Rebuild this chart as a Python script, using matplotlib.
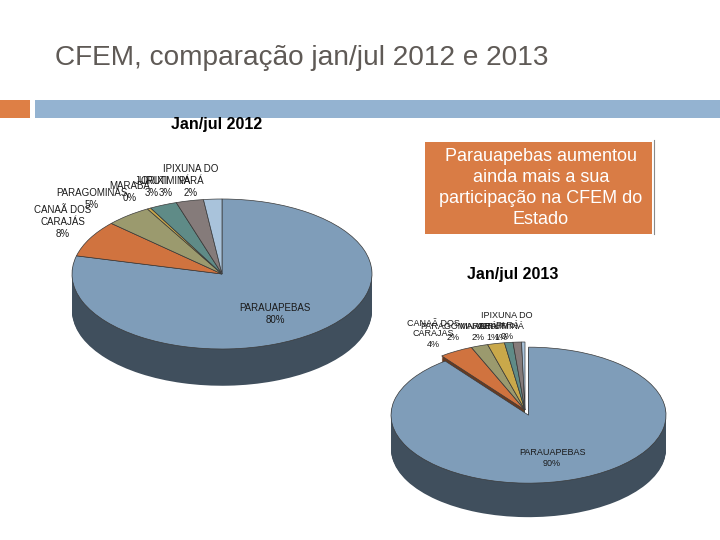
import matplotlib
matplotlib.use("Agg")
import matplotlib.pyplot as plt
import matplotlib.colors as mcolors
from matplotlib.patches import Rectangle
from matplotlib.lines import Line2D
import numpy as np

W, H = 720, 540

municipios = ["PARAUAPEBAS", "CANAÃ DOS\nCARAJÁS", "PARAGOMINAS", "MARABÁ",
              "JURUTI", "ORIXIMINÁ", "IPIXUNA DO\nPARÁ"]
share_2012 = [80, 8, 5, 0.4, 3, 3, 2]
share_2013 = [90, 4, 2, 2, 1, 1, 0.4]

colors = ["#7F9DB9", "#D0733F", "#9B9A6E", "#C9A84A", "#5F8B87", "#857B7A", "#A9C3DB"]

# label centres in pixels (top-left origin)
pos_2012 = [(275, 314), (63, 222), (92, 199), (130, 192), (152, 187), (166, 187), (191, 181)]
pos_2013 = [(552, 458), (433, 334), (453, 332), (478, 332), (493, 332), (501, 332), (507, 326)]

fig = plt.figure(figsize=(7.2, 5.4), dpi=100)
fig.patch.set_facecolor("white")

def fx(x):
    return x / W

def fy(y):
    return 1 - y / H

# header
fig.text(fx(55), fy(58), "CFEM, comparação jan/jul 2012 e 2013", fontsize=20.2,
         color="#5f5a56", family="Liberation Sans", va="center", ha="left")
fig.patches.append(Rectangle((fx(0), fy(118)), fx(30), 18 / H, transform=fig.transFigure,
                             facecolor="#DE7F45", edgecolor="none"))
fig.patches.append(Rectangle((fx(35), fy(118)), fx(685), 18 / H, transform=fig.transFigure,
                             facecolor="#94B3D1", edgecolor="none"))


def pie3d(cx, cy, rx, ry, depth, values, explode, pad=1.25):
    left = cx - pad * rx
    top = cy - pad * ry
    bottom = cy + (pad + depth) * ry
    ax = fig.add_axes([fx(left), fy(bottom), 2 * pad * rx / W, (bottom - top) / H])
    side = [tuple(np.array(mcolors.to_rgb(c)) * 0.5) for c in colors]
    for k in np.linspace(depth, 0, 40)[:-1]:
        ax.pie(values, colors=side, startangle=90, counterclock=False, explode=explode,
               center=(0, -k), wedgeprops=dict(linewidth=0))
    ax.pie(values, colors=colors, startangle=90, counterclock=False, explode=explode,
           wedgeprops=dict(linewidth=0.5, edgecolor="#3a3a3a"))
    ax.set_aspect("auto")
    ax.set_xlim(-pad, pad)
    ax.set_ylim(-pad - depth, pad)
    ax.axis("off")
    return ax


pie3d(222, 274, 150, 75, 0.49, share_2012, [0] * 7)
pie3d(525, 410, 137.5, 68, 0.5, share_2013, [0.08] + [0] * 6)

for name, val, (x, y) in zip(municipios, share_2012, pos_2012):
    fig.text(fx(x), fy(y), f"{name}\n{round(val)}%", fontsize=7, ha="center", va="center",
             color="#1a1a1a", family="Liberation Sans")
for name, val, (x, y) in zip(municipios, share_2013, pos_2013):
    fig.text(fx(x), fy(y), f"{name}\n{round(val)}%", fontsize=6.5, ha="center", va="center",
             color="#1a1a1a", family="Liberation Sans")

fig.text(fx(217), fy(125), "Jan/jul 2012", fontsize=11.5, fontweight="bold",
         family="Liberation Sans", ha="center", va="center", color="black")
fig.text(fx(513), fy(275), "Jan/jul 2013", fontsize=11.5, fontweight="bold",
         family="Liberation Sans", ha="center", va="center", color="black")

# note box
fig.patches.append(Rectangle((fx(425), fy(234)), fx(227), 92 / H, transform=fig.transFigure,
                             facecolor="#D97C45", edgecolor="none"))
fig.lines.append(Line2D([fx(654), fx(654)], [fy(140), fy(234)], transform=fig.transFigure,
                        color="#8a8a8a", linewidth=0.8))
fig.text(fx(541), fy(188), "Parauapebas aumentou\nainda mais a sua\nparticipação na CFEM do\nEstado",
         fontsize=13, color="white", family="Liberation Sans", ha="center", va="center",
         linespacing=1.3)

fig.savefig("out.png", dpi=100)
